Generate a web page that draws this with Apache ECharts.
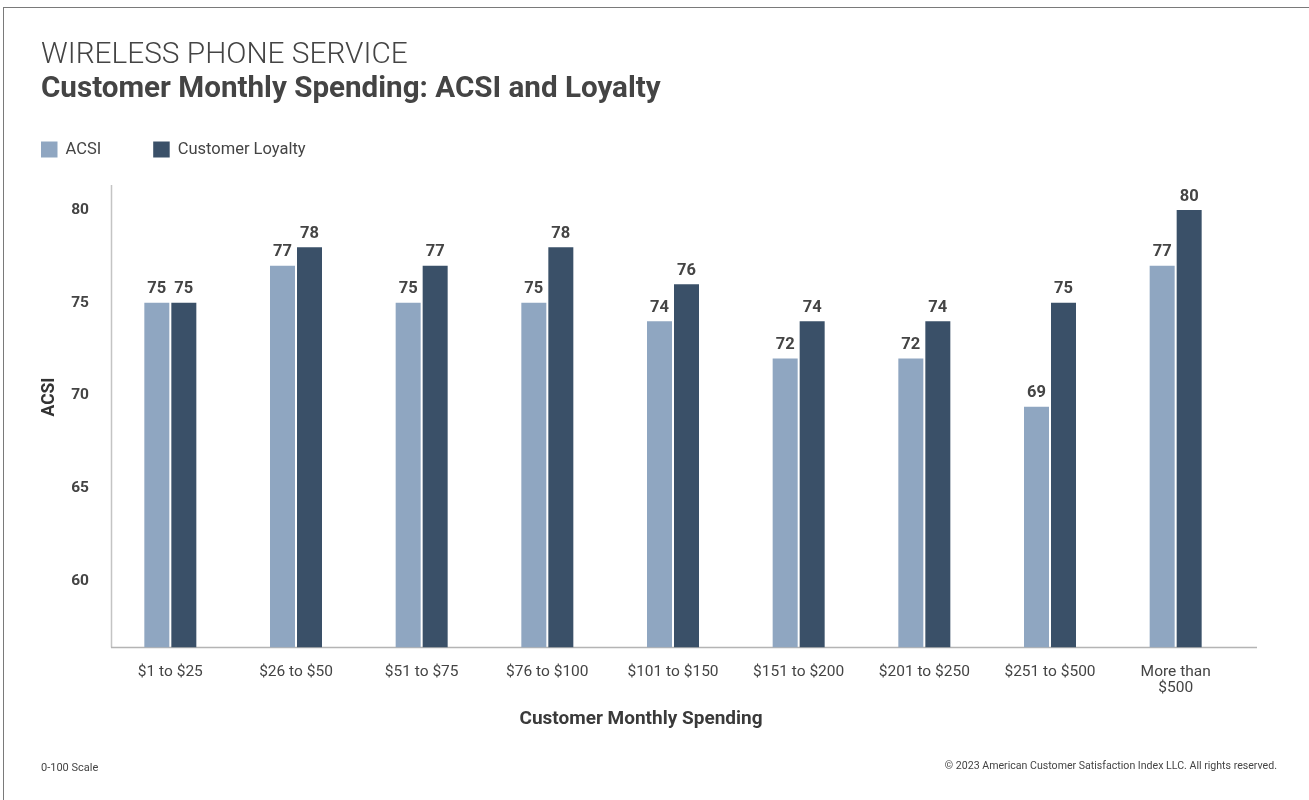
<!DOCTYPE html>
<html>
<head>
<meta charset="utf-8">
<script src="https://cdn.jsdelivr.net/npm/echarts@6/dist/echarts.min.js"></script>
<style>
html,body{margin:0;padding:0;background:#fff;}
#frame{position:absolute;left:3px;top:7px;width:1400px;height:900px;border:1px solid #7a7a7a;box-sizing:border-box;}
#chart{position:absolute;left:0;top:0;width:1309px;height:800px;}
</style>
</head>
<body>
<div id="frame"></div>
<div id="chart"></div>
<script>
const categories = ['$1 to $25','$26 to $50','$51 to $75','$76 to $100','$101 to $150','$151 to $200','$201 to $250','$251 to $500','More than\n$500'];
const acsi = [75, 77, 75, 75, 74, 72, 72, 69.4, 77];
const loyalty = [75, 78, 77, 78, 76, 74, 74, 75, 80];
const yTicks = [60, 65, 70, 75, 80];

const FONT = 'Roboto';
const chart = echarts.init(document.getElementById('chart'), null, {renderer: 'canvas'});
const labelCfg = {
  show: true, position: 'top', distance: 5,
  fontFamily: FONT, fontWeight: 'bold', fontSize: 16.5, color: '#444',
  formatter: p => Math.round(p.value)
};
chart.setOption({
  animation: false,
  backgroundColor: 'transparent',
  textStyle: {fontFamily: FONT},
  legend: {
    left: 41, top: 141, padding: 0, itemWidth: 16.5, itemHeight: 16, itemGap: 52,
    icon: 'rect',
    textStyle: {fontFamily: FONT, fontSize: 16.5, color: '#444', padding: [0, 0, 0, 3]},
    data: ['ACSI', 'Customer Loyalty']
  },
  grid: {left: 107.5, right: 70.5, top: 185, bottom: 800 - 647.3, containLabel: false},
  xAxis: {
    type: 'category', data: categories,
    axisLine: {show: false}, axisTick: {show: false},
    axisLabel: {fontFamily: FONT, fontSize: 15.5, color: '#444', margin: 17, lineHeight: 16, interval: 0}
  },
  yAxis: {
    type: 'value', min: 56.43, max: 81.35,
    axisLine: {show: false}, axisTick: {show: false}, splitLine: {show: false},
    axisLabel: {customValues: yTicks, fontFamily: FONT, fontSize: 15.5, fontWeight: 'bold', color: '#444', margin: 18.5}
  },
  series: [
    {name: 'ACSI', type: 'bar', data: acsi, barWidth: 25, barGap: '8%', itemStyle: {color: '#8FA6C1'}, label: labelCfg},
    {name: 'Customer Loyalty', type: 'bar', data: loyalty, barWidth: 25, itemStyle: {color: '#3A5068'}, label: labelCfg}
  ],
  graphic: [
    {type: 'line', shape: {x1: 111.5, y1: 185, x2: 111.5, y2: 647.5}, style: {stroke: '#c4c4c4', lineWidth: 1.5}},
    {type: 'line', shape: {x1: 111, y1: 647.5, x2: 1257, y2: 647.5}, style: {stroke: '#b4b4b4', lineWidth: 1.5}},
    {type: 'text', x: 41, y: 56, style: {text: 'WIRELESS PHONE SERVICE', font: '300 29.8px Roboto', fill: '#444', textVerticalAlign: 'middle'}},
    {type: 'text', x: 41, y: 90, style: {text: 'Customer Monthly Spending: ACSI and Loyalty', font: 'bold 29.6px Roboto', fill: '#444', textVerticalAlign: 'middle'}},
    {type: 'text', x: 50, y: 397, rotation: Math.PI / 2, style: {text: 'ACSI', font: 'bold 17.5px Roboto', fill: '#333', textAlign: 'center', textVerticalAlign: 'middle'}},
    {type: 'text', x: 641, y: 719.5, style: {text: 'Customer Monthly Spending', font: 'bold 19px Roboto', fill: '#3a3a3a', textAlign: 'center', textVerticalAlign: 'middle'}},
    {type: 'text', x: 41, y: 768, style: {text: '0-100 Scale', font: '11px Roboto', fill: '#444', textVerticalAlign: 'middle'}},
    {type: 'text', x: 1277, y: 766, style: {text: '© 2023 American Customer Satisfaction Index LLC. All rights reserved.', font: '10.6px Roboto', fill: '#444', textAlign: 'right', textVerticalAlign: 'middle'}}
  ]
});
</script>
</body>
</html>
